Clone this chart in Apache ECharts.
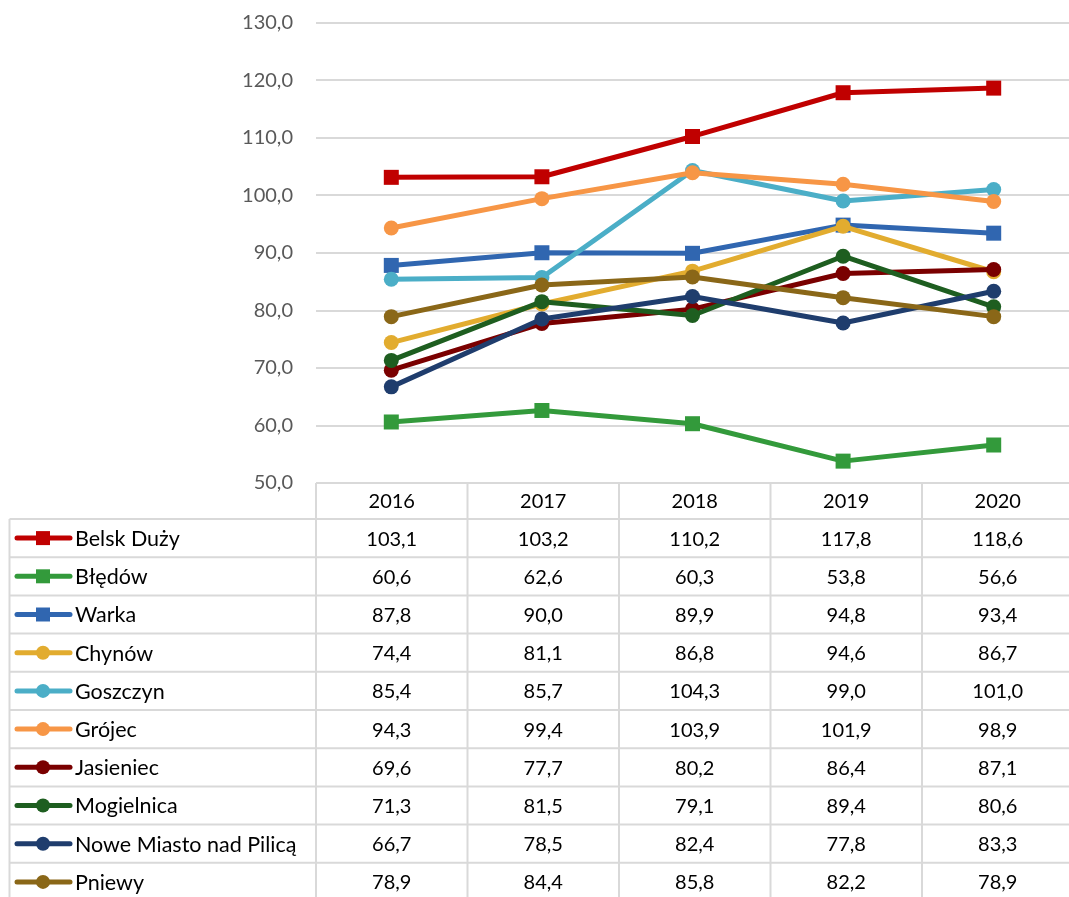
<!DOCTYPE html>
<html>
<head>
<meta charset="utf-8">
<script src="https://cdn.jsdelivr.net/npm/echarts@6/dist/echarts.min.js"></script>
<style>
  html, body { margin: 0; padding: 0; background: #ffffff; }
  #chart { width: 1069px; height: 897px; }
</style>
</head>
<body>
<div id="chart"></div>
<script>
// Years on the category axis
const years = ['2016', '2017', '2018', '2019', '2020'];

// Municipality names (row labels of the data table)
const names = [
  'Belsk Duży', 'Błędów', 'Warka', 'Chynów', 'Goszczyn',
  'Grójec', 'Jasieniec', 'Mogielnica', 'Nowe Miasto nad Pilicą', 'Pniewy'
];

// Indicator values per municipality
const belskDuzy   = [103.1, 103.2, 110.2, 117.8, 118.6];
const bledow      = [60.6, 62.6, 60.3, 53.8, 56.6];
const warka       = [87.8, 90.0, 89.9, 94.8, 93.4];
const chynow      = [74.4, 81.1, 86.8, 94.6, 86.7];
const goszczyn    = [85.4, 85.7, 104.3, 99.0, 101.0];
const grojec      = [94.3, 99.4, 103.9, 101.9, 98.9];
const jasieniec   = [69.6, 77.7, 80.2, 86.4, 87.1];
const mogielnica  = [71.3, 81.5, 79.1, 89.4, 80.6];
const noweMiasto  = [66.7, 78.5, 82.4, 77.8, 83.3];
const pniewy      = [78.9, 84.4, 85.8, 82.2, 78.9];

const seriesValues = [belskDuzy, bledow, warka, chynow, goszczyn,
                      grojec, jasieniec, mogielnica, noweMiasto, pniewy];

// Value axis range
const yMin = 50, yMax = 130, yStep = 10;

// Styling per series
const colors = ['#C00000', '#339A3B', '#3066B0', '#E2AC2F', '#4BAEC7',
                '#F79646', '#7A0000', '#1E5E20', '#1F3D6D', '#8A6718'];
const symbols = ['rect', 'rect', 'rect', 'circle', 'circle',
                 'circle', 'circle', 'circle', 'circle', 'circle'];

const FONT = 'Lato, "Open Sans", sans-serif';
const fmt = v => v.toFixed(1).replace('.', ',');

// Layout of plot and table
const plotLeft = 316, plotTop = 22.5, plotBottom = 483;
const colW = 151.5;
const tableLeft = 9.5;
const headerBottom = 519;
const rowH = 38.2;
const gridColor = '#D9D9D9';
const W = 1069, H = 897;

const chart = echarts.init(document.getElementById('chart'), null, { renderer: 'canvas' });

const series = names.map((n, i) => ({
  name: n,
  type: 'line',
  data: seriesValues[i],
  symbol: symbols[i],
  symbolSize: 15,
  showSymbol: true,
  lineStyle: { color: colors[i], width: 5 },
  itemStyle: { color: colors[i] },
  z: 2 + i,
  animation: false
}));

// Data table drawn beneath the plot
const graphics = [];
const lineStyle = { stroke: gridColor, lineWidth: 2 };

// vertical separators
graphics.push({ type: 'line', shape: { x1: tableLeft, y1: headerBottom, x2: tableLeft, y2: H }, style: lineStyle });
for (let c = 0; c <= years.length; c++) {
  const x = plotLeft + c * colW;
  graphics.push({ type: 'line', shape: { x1: x, y1: plotBottom, x2: x, y2: H }, style: lineStyle });
}
// horizontal separators
for (let r = 0; r <= names.length; r++) {
  const y = headerBottom + r * rowH;
  graphics.push({ type: 'line', shape: { x1: tableLeft, y1: y, x2: W, y2: y }, style: lineStyle });
}
// year header
years.forEach((yr, c) => {
  graphics.push({
    type: 'text', x: plotLeft + (c + 0.5) * colW, y: (plotBottom + headerBottom) / 2 + 1,
    style: { text: yr, fill: '#000000', font: '20px ' + FONT, align: 'center', verticalAlign: 'middle' }
  });
});
// rows: legend key, name, values
names.forEach((n, r) => {
  const cy = headerBottom + (r + 0.5) * rowH;
  graphics.push({ type: 'line', shape: { x1: 17, y1: cy, x2: 70, y2: cy },
    style: { stroke: colors[r], lineWidth: 5, lineCap: 'round' }, z: 10 });
  if (symbols[r] === 'rect') {
    graphics.push({ type: 'rect', shape: { x: 36, y: cy - 7, width: 14, height: 14 },
      style: { fill: colors[r] }, z: 11 });
  } else {
    graphics.push({ type: 'circle', shape: { cx: 43, cy: cy, r: 7 },
      style: { fill: colors[r] }, z: 11 });
  }
  graphics.push({
    type: 'text', x: 75, y: cy + 1,
    style: { text: n, fill: '#000000', font: '21.5px ' + FONT, align: 'left', verticalAlign: 'middle' }
  });
  seriesValues[r].forEach((v, c) => {
    graphics.push({
      type: 'text', x: plotLeft + (c + 0.5) * colW, y: cy + 1,
      style: { text: fmt(v), fill: '#000000', font: '20px ' + FONT, align: 'center', verticalAlign: 'middle' }
    });
  });
});

chart.setOption({
  backgroundColor: '#ffffff',
  animation: false,
  grid: {
    left: plotLeft,
    top: plotTop,
    width: colW * years.length,
    height: plotBottom - plotTop,
    containLabel: false
  },
  xAxis: {
    type: 'category',
    data: years,
    boundaryGap: true,
    axisLine: { show: false },
    axisTick: { show: false },
    axisLabel: { show: false },
    splitLine: { show: false }
  },
  yAxis: {
    type: 'value',
    min: yMin,
    max: yMax,
    interval: yStep,
    axisLine: { show: false },
    axisTick: { show: false },
    axisLabel: {
      formatter: v => fmt(v),
      color: '#595959',
      fontSize: 20,
      fontFamily: FONT,
      margin: 23
    },
    splitLine: { lineStyle: { color: gridColor, width: 2 } }
  },
  series: series,
  graphic: { elements: graphics }
});
</script>
</body>
</html>
